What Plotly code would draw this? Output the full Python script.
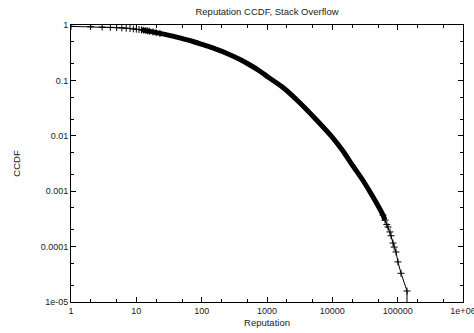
import plotly.graph_objects as go

# ---- data ----
head_rep = [1, 2, 3, 4, 5, 6, 7, 8, 9, 10, 11, 12, 13, 14, 15, 16, 18, 20, 23]
head_ccdf = [0.945, 0.932, 0.920, 0.909, 0.898, 0.887, 0.876, 0.865, 0.853, 0.840,
             0.828, 0.817, 0.806, 0.795, 0.785, 0.770, 0.748, 0.728, 0.705]

body_rep = [12, 16.2, 23, 40, 73.7, 101, 154.5, 244, 400, 549, 782, 1036, 1758,
            3199, 5823, 10230, 14560, 20720, 29460, 41960, 59700, 64000]
body_ccdf = [0.817, 0.766, 0.705, 0.610, 0.504, 0.445, 0.377, 0.306, 0.2335, 0.1897,
             0.1466, 0.1151, 0.0744, 0.0391, 0.0189, 0.00912, 0.00532, 0.00285,
             0.00156, 7.86e-4, 3.7e-4, 3.0e-4]

tail_rep = [59700, 64000, 68100, 71200, 76300, 79200, 84800, 88500, 94400,
            101000, 112500, 139000, 139000]
tail_ccdf = [3.7e-4, 3.0e-4, 2.5e-4, 2.26e-4, 1.84e-4, 1.57e-4, 1.16e-4,
             9.8e-5, 8.0e-5, 5.3e-5, 3.3e-5, 1.58e-5, 1e-6]

x_ticks = [1, 10, 100, 1000, 10000, 100000, 1000000]
x_labels = ["1", "10", "100", "1000", "10000", "100000", "1e+06"]
y_ticks = [1e-5, 1e-4, 1e-3, 1e-2, 1e-1, 1]
y_labels = ["1e-05", "0.0001", "0.001", "0.01", "0.1", "1"]

FONT = "Liberation Sans, Arial, sans-serif"
TXT = "#222222"

fig = go.Figure()

# dense middle part: overlapping markers form a thick band
fig.add_trace(go.Scatter(
    x=body_rep, y=body_ccdf, mode="lines",
    line=dict(color="black", width=5, shape="spline", smoothing=0.5),
    hoverinfo="skip", showlegend=False))

marker = dict(symbol="cross-thin", size=5, line=dict(color="black", width=1), color="black")
fig.add_trace(go.Scatter(
    x=head_rep, y=head_ccdf, mode="lines+markers",
    line=dict(color="black", width=1), marker=marker, showlegend=False))
fig.add_trace(go.Scatter(
    x=tail_rep, y=tail_ccdf, mode="lines+markers",
    line=dict(color="black", width=1), marker=marker, showlegend=False))

minor_x = [m * 10 ** d for d in range(0, 6) for m in (2, 5)]
minor_y = [m * 10 ** d for d in range(-5, 0) for m in (2, 5)]

axis_common = dict(
    type="log", showgrid=False, zeroline=False, automargin=False,
    showline=True, linecolor="black", linewidth=1, mirror="ticks",
    ticks="inside", ticklen=5, tickcolor="black", tickwidth=1,
    tickfont=dict(family=FONT, size=9, color=TXT),
)

fig.update_xaxes(
    **axis_common, range=[0, 6], tickmode="array", tickvals=x_ticks, ticktext=x_labels,
    ticklabeloverflow="allow",
    minor=dict(tickmode="array", tickvals=minor_x, ticks="inside", ticklen=3,
               tickcolor="black", tickwidth=1),
    title=dict(text="Reputation", font=dict(family=FONT, size=9.5, color=TXT), standoff=4),
)
fig.update_yaxes(
    **axis_common, range=[-5, 0], tickmode="array", tickvals=y_ticks, ticktext=y_labels,
    ticklabeloverflow="allow",
    minor=dict(tickmode="array", tickvals=minor_y, ticks="inside", ticklen=3,
               tickcolor="black", tickwidth=1),
    title=dict(text="CCDF", font=dict(family=FONT, size=9.5, color=TXT), standoff=18),
)

fig.update_layout(
    width=474, height=333,
    margin=dict(l=71, r=11, t=25, b=31),
    paper_bgcolor="white", plot_bgcolor="white",
    title=dict(text="Reputation CCDF, Stack Overflow", x=0.5, xref="paper",
               y=0.965, yref="container", yanchor="middle",
               font=dict(family=FONT, size=9.5, color=TXT)),
)

fig.write_html("out.html")
